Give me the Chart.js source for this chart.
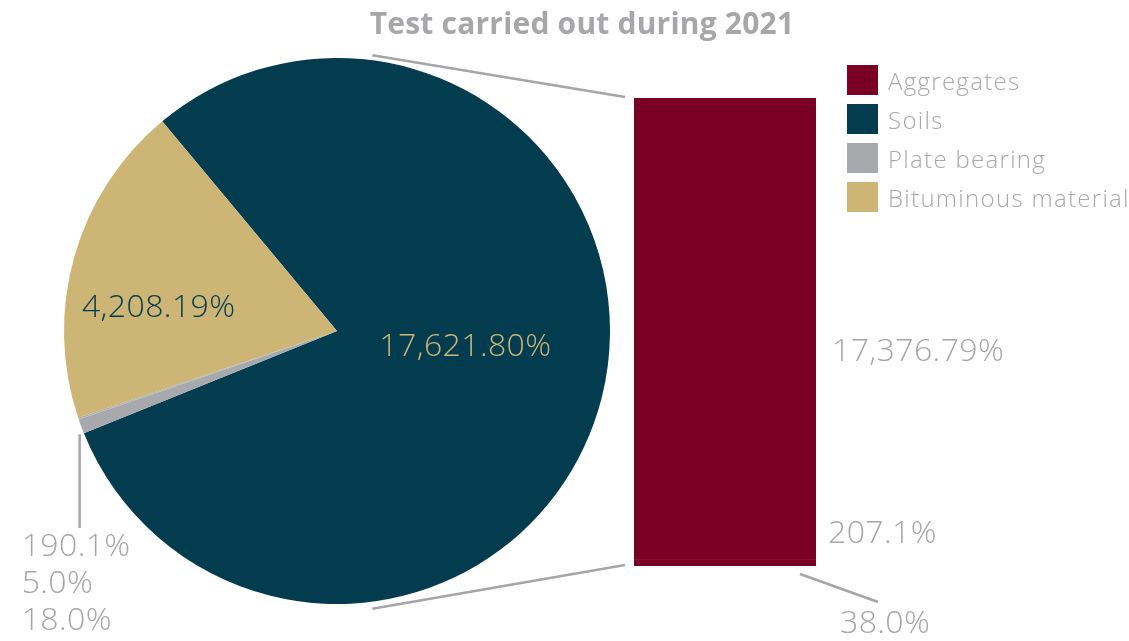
<!DOCTYPE html>
<html>
<head>
<meta charset="utf-8">
<script src="https://cdn.jsdelivr.net/npm/chart.js@4.4.1/dist/chart.umd.min.js"></script>
<style>
  html, body { margin: 0; padding: 0; background: #fff; }
  #wrap { position: relative; width: 1129px; height: 641px; overflow: hidden; }
  #wrap canvas { position: absolute; left: 0; top: 0; }
  #title {
    position: absolute; left: 282px; top: 8px; width: 600px;
    text-align: center; font: 700 30px "Open Sans", sans-serif; line-height: 30px;
    letter-spacing: 0.2px; color: #a7a7a9; white-space: nowrap;
  }
  #legend { position: absolute; left: 847px; top: 65px; }
  .item { display: flex; align-items: center; height: 30px; margin-bottom: 9px; }
  .swatch { width: 31px; height: 30px; margin-right: 10px; }
  .item span {
    font: 300 24px "Open Sans", sans-serif; letter-spacing: 1.3px;
    color: #a9a9ab; white-space: nowrap;
  }
</style>
</head>
<body>
<div id="wrap">
  <canvas id="pie" width="1129" height="641"></canvas>
  <canvas id="bar" width="1129" height="641"></canvas>
  <div id="title">Test carried out during 2021</div>
  <div id="legend"></div>
</div>
<script>
// pie: soils, the three small plate bearing values, bituminous material
const pieLabels = ['Soils', 'Plate bearing', 'Plate bearing', 'Plate bearing', 'Bituminous material'];
const pieValues = [17621.80, 190.1, 5.0, 18.0, 4208.19];
const pieDecimals = [2, 1, 1, 1, 2];

// bar: soils split, stacked bottom to top
const splitLabels = ['Aggregates', 'Aggregates', 'Aggregates'];
const splitValues = [38.0, 207.1, 17376.79];
const splitDecimals = [1, 1, 2];

const legendLabels = ['Aggregates', 'Soils', 'Plate bearing', 'Bituminous material'];

const MAROON = '#7a0026';
const TEAL = '#033c4f';
const GREY = '#a7a9ac';
const TAN = '#cdb575';
const TEXT_GREY = '#a6a6a8';
const pieColors = [TEAL, GREY, GREY, GREY, TAN];
const legendColors = [MAROON, TEAL, GREY, TAN];
const LABEL_FONT = '300 32px "Open Sans", sans-serif';

const fmt = (v, d) => v.toLocaleString('en-US', { minimumFractionDigits: d, maximumFractionDigits: d }) + '%';

// legend
const legendEl = document.getElementById('legend');
legendLabels.forEach((name, i) => {
  const row = document.createElement('div');
  row.className = 'item';
  row.innerHTML = '<div class="swatch" style="background:' + legendColors[i] + '"></div><span>' + name + '</span>';
  legendEl.appendChild(row);
});

// labels on the pie; the small slices get a leader and a stacked list
const pieLabelPlugin = {
  id: 'pieLabels',
  afterDatasetsDraw(chart) {
    const ctx = chart.ctx;
    const arcs = chart.getDatasetMeta(0).data;
    const inside = { 0: { color: TAN, dx: -4, dy: -17 }, 4: { color: TEAL, dx: -47, dy: 14 } };
    ctx.save();
    ctx.font = LABEL_FONT;
    ctx.letterSpacing = '0.4px';
    ctx.textBaseline = 'middle';
    ctx.textAlign = 'center';
    Object.keys(inside).forEach(k => {
      const i = +k;
      const p = arcs[i].tooltipPosition();
      ctx.fillStyle = inside[k].color;
      ctx.fillText(fmt(pieValues[i], pieDecimals[i]), p.x + inside[k].dx, p.y + inside[k].dy);
    });

    const mid = arcs[2];
    const { x, y, startAngle, endAngle, outerRadius } = mid.getProps(['x', 'y', 'startAngle', 'endAngle', 'outerRadius'], true);
    const a = (startAngle + endAngle) / 2;
    const lx = x + Math.cos(a) * outerRadius + 1;
    const ly = y + Math.sin(a) * outerRadius + 15;
    const lyEnd = 528;
    ctx.strokeStyle = TEXT_GREY;
    ctx.lineWidth = 2.5;
    ctx.beginPath();
    ctx.moveTo(lx, ly);
    ctx.lineTo(lx, lyEnd);
    ctx.stroke();

    ctx.textAlign = 'left';
    ctx.fillStyle = TEXT_GREY;
    [1, 2, 3].forEach((i, n) => {
      ctx.fillText(fmt(pieValues[i], pieDecimals[i]), lx - 58, lyEnd + 19 + n * 37);
    });
    ctx.restore();
  }
};

const pieChart = new Chart(document.getElementById('pie'), {
  type: 'pie',
  data: {
    labels: pieLabels,
    datasets: [{
      data: pieValues,
      backgroundColor: pieColors,
      borderWidth: 0
    }]
  },
  options: {
    responsive: false,
    animation: false,
    rotation: 320.2,
    layout: { padding: { left: 64, top: 58, right: 519, bottom: 37 } },
    plugins: { legend: { display: false }, tooltip: { enabled: false } }
  },
  plugins: [pieLabelPlugin]
});

// connector lines from the soils slice to the bar, plus the bar's value labels
const barLabelPlugin = {
  id: 'barLabels',
  afterDatasetsDraw(chart) {
    const ctx = chart.ctx;
    const soils = pieChart.getDatasetMeta(0).data[0];
    const { x: cx, y: cy, outerRadius } = soils.getProps(['x', 'y', 'outerRadius'], true);
    const top = chart.getDatasetMeta(splitValues.length - 1).data[0];
    const bottom = chart.getDatasetMeta(0).data[0];
    const barLeft = top.x - top.width / 2;
    const barRight = top.x + top.width / 2;
    const barTop = top.y;
    const barBottom = bottom.base;

    ctx.save();
    ctx.strokeStyle = TEXT_GREY;
    ctx.lineWidth = 2.5;
    const tilt = 7.3 * Math.PI / 180;
    const r = outerRadius + 5;
    ctx.beginPath();
    ctx.moveTo(cx + Math.sin(tilt) * r, cy - Math.cos(tilt) * r);
    ctx.lineTo(barLeft - 9, barTop - 1);
    ctx.moveTo(cx + Math.sin(tilt) * r, cy + Math.cos(tilt) * r + 2);
    ctx.lineTo(barLeft - 9, barBottom - 1);
    ctx.stroke();

    const place = [
      { dx: 24, dy: 58, leader: true },
      { dx: 12, dy: -28 },
      { dx: 16, dy: 23 }
    ];
    ctx.font = LABEL_FONT;
    ctx.letterSpacing = '0.4px';
    ctx.textBaseline = 'middle';
    ctx.textAlign = 'left';
    ctx.fillStyle = TEXT_GREY;
    splitValues.forEach((v, i) => {
      const seg = chart.getDatasetMeta(i).data[0];
      const segMid = (seg.y + seg.base) / 2;
      const pl = place[i];
      if (pl.leader) {
        ctx.beginPath();
        ctx.moveTo(barRight - 16, barBottom + 8);
        ctx.lineTo(barRight + 62, barBottom + 36);
        ctx.stroke();
      }
      ctx.fillText(fmt(v, splitDecimals[i]), barRight + pl.dx, segMid + pl.dy);
    });
    ctx.restore();
  }
};

new Chart(document.getElementById('bar'), {
  type: 'bar',
  data: {
    labels: ['Soils'],
    datasets: splitValues.map((v, i) => ({
      label: splitLabels[i],
      data: [v],
      backgroundColor: MAROON,
      borderWidth: 0,
      barPercentage: 1,
      categoryPercentage: 1
    }))
  },
  options: {
    responsive: false,
    animation: false,
    layout: { padding: { left: 634, right: 313, top: 98, bottom: 75 } },
    scales: {
      x: { stacked: true, display: false },
      y: { stacked: true, display: false, min: 0, max: splitValues.reduce((s, v) => s + v, 0) }
    },
    plugins: { legend: { display: false }, tooltip: { enabled: false } }
  },
  plugins: [barLabelPlugin]
});
</script>
</body>
</html>
